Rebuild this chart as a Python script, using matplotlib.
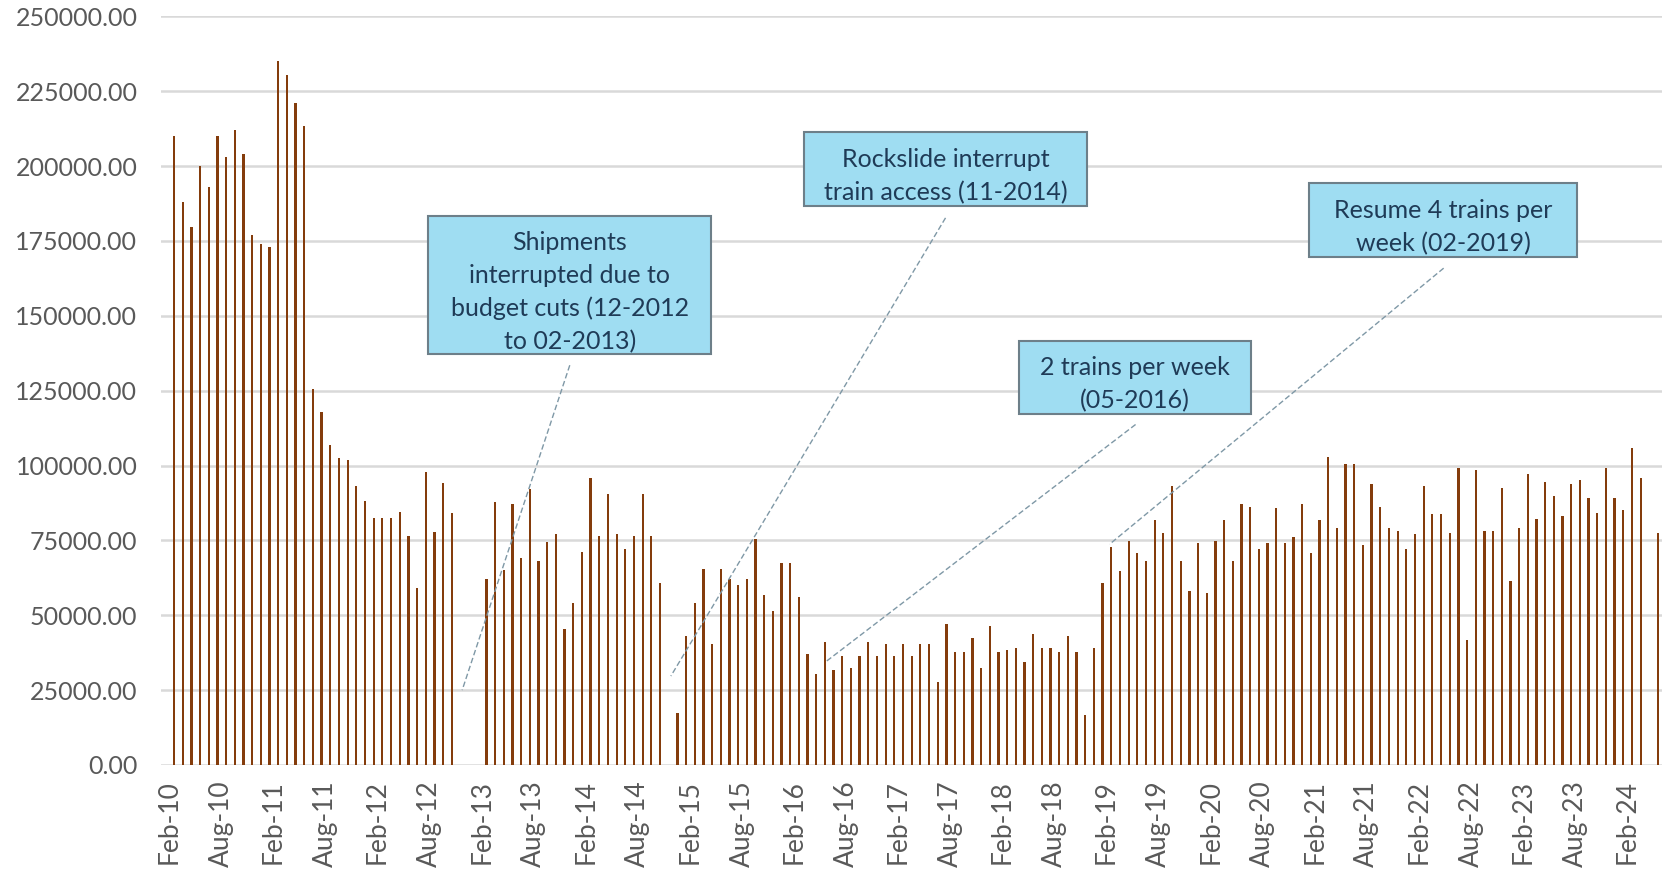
import numpy as np
import pandas as pd
import matplotlib
matplotlib.use('Agg')
import matplotlib.pyplot as plt
from matplotlib.patches import Rectangle

# monthly shipments, Feb-10 .. May-24 (nan = no shipment that month)
months = pd.date_range('2010-02-01', periods=172, freq='MS')
values = [
    210000, 188000, 179500, 200000, 193000, 210000, 203000, 212000, 204000, 177000,
    174000, 173000, 235000, 230500, 221000, 213500, 125500, 118000, 107000, 102500,
    102000, 93300, 88000, 82500, 82500, 82500, 84500, 76500, 59000, 98000,
    77700, 94000, 84000, np.nan, np.nan, np.nan, 62000, 87800, 65000, 87000,
    69000, 92000, 68200, 74300, 77000, 45300, 54000, 71000, 96000, 76300,
    90500, 77000, 72200, 76300, 90500, 76300, 60700, np.nan, 17500, 43200,
    54000, 65400, 40500, 65400, 62000, 60000, 62000, 75500, 56600, 51300,
    67400, 67400, 56000, 37000, 30300, 41000, 31700, 36400, 32400, 36400,
    41000, 36400, 40500, 36400, 40400, 36400, 40400, 40400, 27600, 47200,
    37700, 37700, 42500, 32400, 46500, 37700, 38400, 39000, 34400, 43800,
    39000, 39000, 37700, 43200, 37700, 16800, 39000, 60700, 72900, 64800,
    74900, 70900, 68100, 81700, 77500, 93100, 68100, 58000, 74200, 57300,
    74900, 81700, 68100, 87100, 86300, 72200, 74200, 85800, 74200, 76200,
    87100, 70900, 81700, 102700, 79000, 100600, 100600, 73500, 93800, 86300,
    79000, 78300, 72200, 77000, 93100, 83700, 83700, 77500, 99200, 41800,
    98600, 78300, 78300, 92500, 61400, 79000, 97100, 82300, 94500, 89800,
    83000, 93800, 95100, 89100, 84300, 99200, 89100, 85000, 105900, 95800,
    np.nan, 77500,
]
month_labels = months.strftime('%b-%y')
yticks = np.arange(0, 250001, 25000)

# callouts: text, box (x0, x1, y0, y1) in month index / value, line start, line end
notes = [
    ('Shipments\ninterrupted due to\nbudget cuts (12-2012\nto 02-2013)',
     (29.3, 61.9, 137100, 183400), (45.6, 133500), (33.2, 25000)),
    ('Rockslide interrupt\ntrain access (11-2014)',
     (72.6, 105.2, 186700, 211300), (88.9, 182700), (57.25, 29700)),
    ('2 trains per week\n(05-2016)',
     (97.4, 124.1, 117200, 141700), (110.8, 113700), (75.2, 34700)),
    ('Resume 4 trains per\nweek (02-2019)',
     (130.8, 161.7, 169700, 194200), (146.3, 165900), (107.8, 73700)),
]

plt.rcParams['font.family'] = ['Lato', 'DejaVu Sans']

fig = plt.figure(figsize=(16.69, 8.69), dpi=100)
ax = fig.add_axes([0.0965, 0.1197, 0.8995, 0.8615])

x = np.arange(len(values))
ax.bar(x, values, width=0.26, color='#843C0C', zorder=2)

ax.set_xlim(-1.5, 171.5)
ax.set_ylim(0, 250000)
ax.set_yticks(yticks)
ax.set_yticklabels(['%.2f' % v for v in yticks], fontsize=18, color='#595959')
ax.set_xticks(x[::6] - 0.55)
ax.set_xticklabels(month_labels[::6], rotation=90, fontsize=19, color='#595959')
ax.tick_params(axis='both', length=0)
ax.tick_params(axis='y', pad=17)
ax.tick_params(axis='x', pad=11)
ax.yaxis.grid(True, color='#D9D9D9', lw=1.8, zorder=0)
ax.set_axisbelow(True)
for s in ax.spines.values():
    s.set_visible(False)

for text, (x0, x1, y0, y1), start, end in notes:
    ax.add_patch(Rectangle((x0, y0), x1 - x0, y1 - y0, facecolor='#9FDDF2',
                           edgecolor='#6D7F89', lw=1.5, zorder=5, clip_on=False))
    ax.annotate(text, ((x0 + x1) / 2, (y0 + y1) / 2), xytext=(0, -5),
                textcoords='offset points', ha='center', va='center',
                fontsize=18, color='#1F3B57', linespacing=1.5, zorder=6)
    ax.plot([start[0], end[0]], [start[1], end[1]], color='#7F98A6', lw=1,
            dashes=(4, 2), zorder=4)

fig.savefig('out.png', dpi=100)
